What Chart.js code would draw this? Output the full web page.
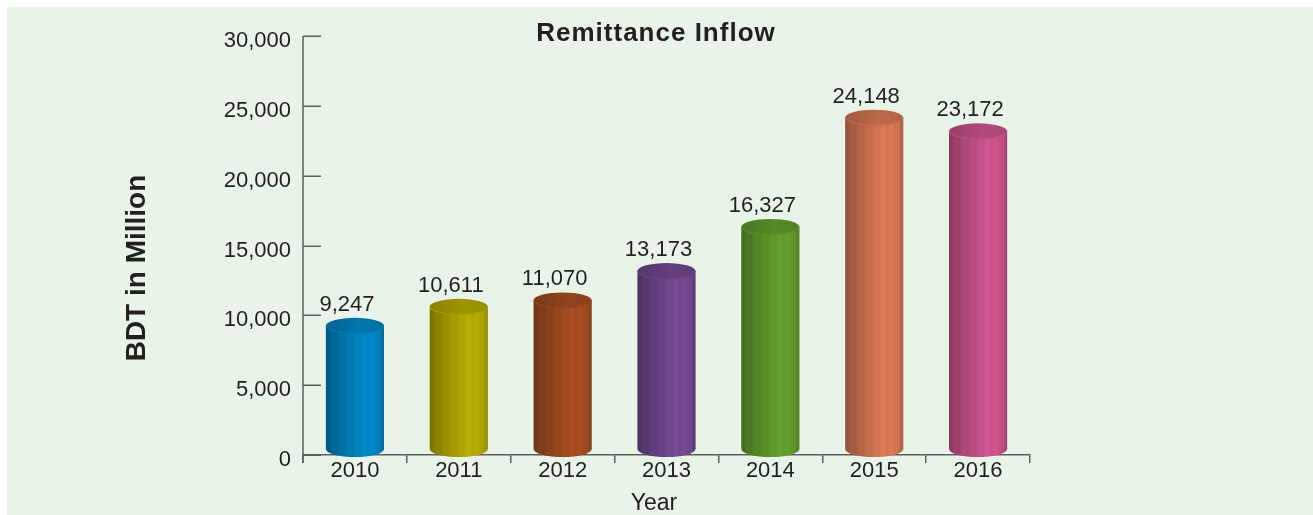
<!DOCTYPE html>
<html>
<head>
<meta charset="utf-8">
<title>Remittance Inflow</title>
<script src="https://cdn.jsdelivr.net/npm/chart.js@4.4.1/dist/chart.umd.min.js"></script>
<style>
  body { margin: 0; background: #fff; }
  #panel { position: absolute; left: 7px; top: 7px; width: 1306px; height: 508px; background: #e9f4e8; }
  #wrap { position: absolute; left: 0; top: 0; width: 1313px; height: 515px; }
</style>
</head>
<body>
<div id="panel"></div>
<div id="wrap"><canvas id="remitChart" width="1313" height="515"></canvas></div>
<script>
// Remittance inflow, BDT million
const years = ['2010', '2011', '2012', '2013', '2014', '2015', '2016'];
const remittance = [9247, 10611, 11070, 13173, 16327, 24148, 23172];
const barColors = ['#0088c8', '#b8ad00', '#a84e22', '#744a92', '#64a02c', '#dc7a55', '#d0558f'];
const yMax = 30000;
const yStep = 5000;

const textColor = '#231f20';
const axisColor = '#5e5e5e';
const fontFamily = "'Liberation Sans', Arial, sans-serif";

Chart.defaults.font.family = fontFamily;
Chart.defaults.color = textColor;

// darken (f < 0) or lighten (f > 0) a hex colour
function shade(hex, f) {
    const n = parseInt(hex.slice(1), 16);
    const r = n >> 16, g = (n >> 8) & 255, b = n & 255;
    const m = v => Math.round(f < 0 ? v * (1 + f) : v + (255 - v) * f);
    return `rgb(${m(r)},${m(g)},${m(b)})`;
}

function fmt(v) {
    return v.toLocaleString('en-US');
}

// draws each bar as a shaded cylinder plus its value on top
const cylinders = {
    id: 'cylinders',
    afterDatasetsDraw(chart) {
        const ctx = chart.ctx;
        const meta = chart.getDatasetMeta(0);
        meta.data.forEach((bar, i) => {
            const { x, y, base, width } = bar.getProps(['x', 'y', 'base', 'width'], true);
            const left = x - width / 2;
            const right = x + width / 2;
            const rx = width / 2;
            const ry = 8;
            const bottom = base - 6;
            const col = barColors[i];

            ctx.save();
            const g = ctx.createLinearGradient(left, 0, right, 0);
            g.addColorStop(0, shade(col, -0.32));
            g.addColorStop(0.3, shade(col, -0.16));
            g.addColorStop(0.65, col);
            g.addColorStop(0.88, shade(col, -0.03));
            g.addColorStop(1, shade(col, -0.22));
            ctx.beginPath();
            ctx.moveTo(left, y);
            ctx.lineTo(left, bottom);
            ctx.ellipse(x, bottom, rx, ry, 0, Math.PI, 0, true);
            ctx.lineTo(right, y);
            ctx.closePath();
            ctx.fillStyle = g;
            ctx.fill();

            // faint vertical striations
            ctx.clip();
            ctx.lineWidth = 1;
            for (let k = 2; k < width; k += 4) {
                ctx.strokeStyle = (k % 8 === 2) ? 'rgba(0,0,0,0.05)' : 'rgba(255,255,255,0.04)';
                ctx.beginPath();
                ctx.moveTo(left + k + 0.5, y);
                ctx.lineTo(left + k + 0.5, base + 4);
                ctx.stroke();
            }
            ctx.restore();

            // top cap
            ctx.save();
            const gt = ctx.createLinearGradient(left, 0, right, 0);
            gt.addColorStop(0, shade(col, -0.26));
            gt.addColorStop(0.6, shade(col, -0.14));
            gt.addColorStop(1, shade(col, -0.18));
            ctx.beginPath();
            ctx.ellipse(x, y, rx, ry, 0, 0, Math.PI * 2);
            ctx.fillStyle = gt;
            ctx.fill();
            ctx.strokeStyle = shade(col, -0.08);
            ctx.lineWidth = 1;
            ctx.beginPath();
            ctx.ellipse(x, y, rx - 0.5, ry - 0.5, 0, 0, Math.PI);
            ctx.stroke();
            ctx.restore();

            // value label
            ctx.save();
            ctx.font = `22px ${fontFamily}`;
            ctx.fillStyle = textColor;
            ctx.textAlign = 'center';
            ctx.textBaseline = 'alphabetic';
            ctx.fillText(fmt(remittance[i]), x - 8, y - 15);
            ctx.restore();
        });
    }
};

// y axis line, inward tick marks and the titles
const frame = {
    id: 'frame',
    afterDraw(chart) {
        const ctx = chart.ctx;
        const ca = chart.chartArea;
        const ys = chart.scales.y;
        ctx.save();
        ctx.strokeStyle = axisColor;
        ctx.lineWidth = 1.5;
        ctx.beginPath();
        ctx.moveTo(ca.left, ca.top);
        ctx.lineTo(ca.left, ca.bottom + 8);
        ys.ticks.forEach(t => {
            const py = Math.round(ys.getPixelForValue(t.value)) + 0.25;
            ctx.moveTo(ca.left, py);
            ctx.lineTo(ca.left + 18, py);
        });
        ctx.stroke();

        ctx.fillStyle = textColor;
        ctx.textAlign = 'center';
        ctx.textBaseline = 'alphabetic';

        ctx.font = `bold 26px ${fontFamily}`;
        ctx.letterSpacing = '1px';
        ctx.fillText('Remittance Inflow', 656, 41);
        ctx.letterSpacing = '0px';

        ctx.font = `23px ${fontFamily}`;
        ctx.fillText('Year', 654, 510);

        ctx.translate(145, 268);
        ctx.rotate(-Math.PI / 2);
        ctx.font = `bold 28px ${fontFamily}`;
        ctx.fillText('BDT in Million', 0, 0);
        ctx.restore();
    }
};

const ctx = document.getElementById('remitChart').getContext('2d');
const remitChart = new Chart(ctx, {
    type: 'bar',
    data: {
        labels: years,
        datasets: [{
            label: 'Remittance Inflow',
            data: remittance,
            backgroundColor: 'rgba(0,0,0,0)',
            borderWidth: 0,
            barPercentage: 0.56,
            categoryPercentage: 1,
        }]
    },
    options: {
        responsive: false,
        animation: false,
        devicePixelRatio: 1,
        layout: {
            padding: { left: 0, right: 283, top: 36, bottom: 0 }
        },
        plugins: {
            legend: { display: false },
            tooltip: { enabled: false },
            title: { display: false },
        },
        scales: {
            x: {
                grid: {
                    display: true,
                    drawOnChartArea: false,
                    drawTicks: true,
                    tickLength: 8,
                    color: axisColor,
                    lineWidth: 1.5,
                },
                border: { display: true, color: axisColor, width: 1.5 },
                ticks: {
                    font: { size: 22 },
                    color: textColor,
                    padding: -5,
                    maxRotation: 0,
                },
                afterFit(scale) {
                    scale.height = 60;
                    scale.paddingLeft = 0;
                    scale.paddingRight = 0;
                }
            },
            y: {
                min: 0,
                max: yMax,
                grid: { display: false, drawTicks: false },
                border: { display: false },
                ticks: {
                    stepSize: yStep,
                    font: { size: 22 },
                    color: textColor,
                    padding: 12,
                    labelOffset: 5,
                    callback: v => fmt(v),
                },
                afterFit(scale) {
                    scale.width = 303;
                    scale.paddingTop = 0;
                    scale.paddingBottom = 0;
                }
            }
        }
    },
    plugins: [cylinders, frame]
});
</script>
</body>
</html>
